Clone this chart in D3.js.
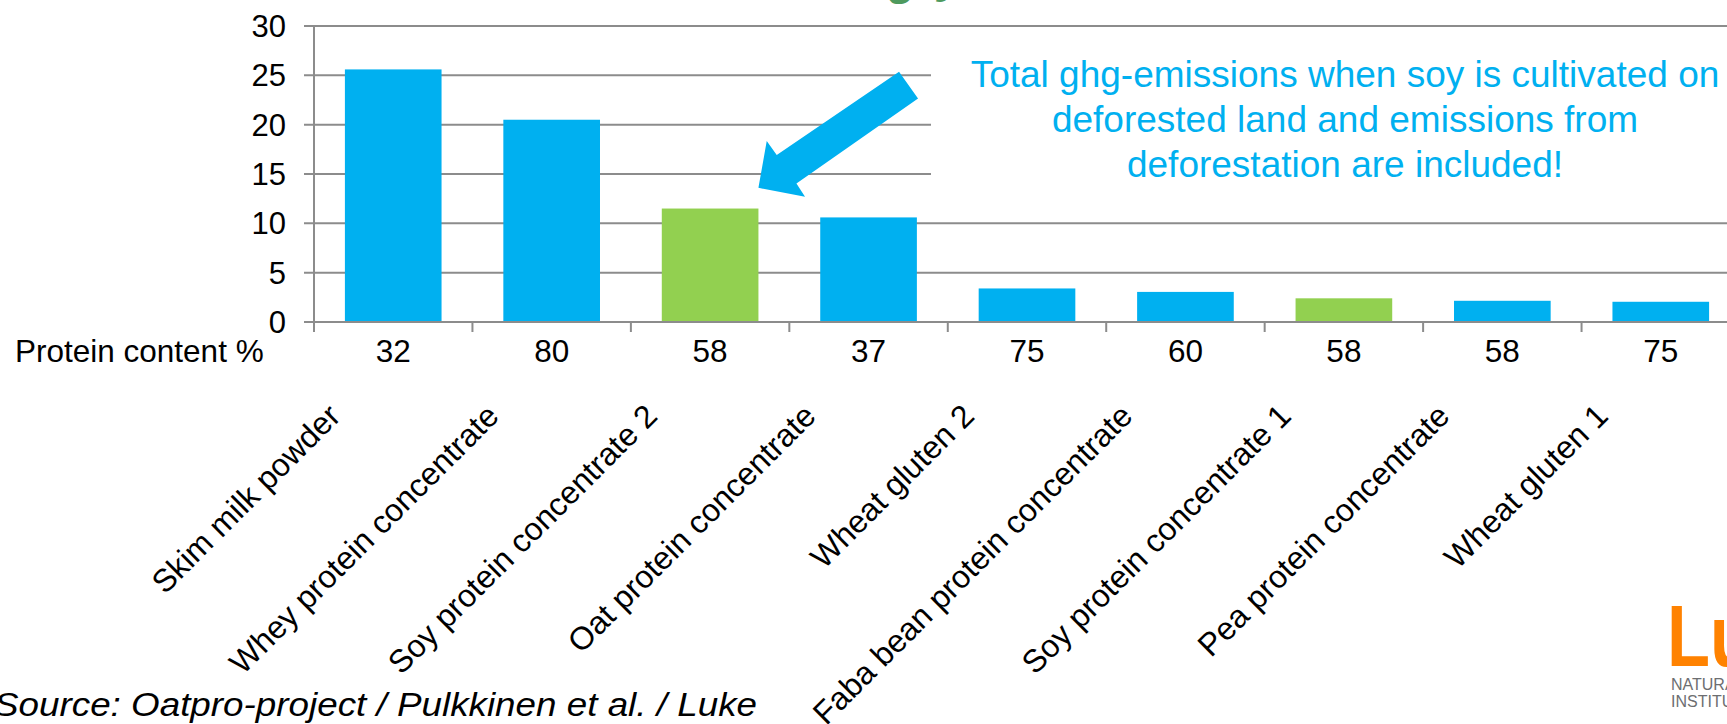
<!DOCTYPE html>
<html><head><meta charset="utf-8">
<script src="https://cdn.jsdelivr.net/npm/d3@7"></script>
<style>html,body{margin:0;padding:0;background:#fff;overflow:hidden}</style>
</head><body><svg id="c" width="1727" height="724"></svg>
<script>
const categories = ["Skim milk powder","Whey protein concentrate","Soy protein concentrate 2","Oat protein concentrate","Wheat gluten 2","Faba bean protein concentrate","Soy protein concentrate 1","Pea protein concentrate","Wheat gluten 1"];
const emissions = [25.6, 20.5, 11.5, 10.6, 3.4, 3.05, 2.4, 2.15, 2.05];
const proteinContent = [32, 80, 58, 37, 75, 60, 58, 58, 75];
const yTicks = [0, 5, 10, 15, 20, 25, 30];
const highlighted = ["Soy protein concentrate 2", "Soy protein concentrate 1"];
const rowLabel = "Protein content %";
const annotationLines = ["Total ghg-emissions when soy is cultivated on", "deforested land and emissions from", "deforestation are included!"];
const arrowTarget = {category: "Soy protein concentrate 2", value: 13.6};
const sourceText = "Source: Oatpro-project / Pulkkinen et al. / Luke";
const logoLines = ["NATURAL RESOURCES", "INSTITUTE FINLAND"];

const svg = d3.select("#c");
const FONT = "'Liberation Sans', Arial, Helvetica, sans-serif";
const BLUE = "#00B0F0", GREEN = "#92D050", GRID = "#8c8c8c";
const x0 = 314, x1 = 1740, yTop = 26, yBot = 322;

const x = d3.scaleBand().domain(categories).range([x0, x1]).paddingInner(0.39).paddingOuter(0.195);
const y = d3.scaleLinear().domain([0, 30]).range([yBot, yTop]);
const bw = x.bandwidth();
const step = x.step();
const cx = c => x(c) + bw / 2;

// title fragment (cut off at top)
const titleG = svg.append("g").attr("font-family", FONT).attr("font-size", 46)
  .attr("font-weight", "bold").attr("font-style", "italic").attr("fill", "#4e9a5e");
titleG.append("text").attr("x", 889).attr("y", -6).text("g");
titleG.append("text").attr("x", 938).attr("y", -8).text("y");

// gridlines
svg.append("g").selectAll("line").data(yTicks).join("line")
  .attr("x1", x0 - 10).attr("x2", x1).attr("y1", d => y(d)).attr("y2", d => y(d))
  .attr("stroke", GRID).attr("stroke-width", 2);

// y axis line
svg.append("line").attr("x1", x0).attr("x2", x0).attr("y1", y(30)).attr("y2", yBot + 10)
  .attr("stroke", GRID).attr("stroke-width", 2);

// y tick labels
svg.append("g").selectAll("text").data(yTicks).join("text")
  .attr("x", 286).attr("y", d => y(d)).attr("dy", "0.36em")
  .attr("text-anchor", "end").attr("font-family", FONT).attr("font-size", 31).attr("fill", "#000")
  .text(d => d);

// category boundary ticks
svg.append("g").selectAll("line").data(d3.range(categories.length + 1)).join("line")
  .attr("x1", i => x0 + i * step).attr("x2", i => x0 + i * step)
  .attr("y1", yBot).attr("y2", yBot + 10)
  .attr("stroke", GRID).attr("stroke-width", 2);

// bars
svg.append("g").selectAll("rect").data(categories).join("rect")
  .attr("x", c => x(c)).attr("width", bw)
  .attr("y", (c, i) => y(emissions[i])).attr("height", (c, i) => yBot - y(emissions[i]))
  .attr("fill", c => highlighted.includes(c) ? GREEN : BLUE);

// baseline on top
svg.append("line").attr("x1", x0 - 10).attr("x2", x1).attr("y1", yBot).attr("y2", yBot)
  .attr("stroke", GRID).attr("stroke-width", 2);

// protein content row
svg.append("text").attr("x", 15).attr("y", 362).attr("font-family", FONT).attr("font-size", 31.5)
  .attr("fill", "#000").text(rowLabel);
svg.append("g").selectAll("text").data(categories).join("text")
  .attr("x", c => cx(c)).attr("y", 362).attr("text-anchor", "middle")
  .attr("font-family", FONT).attr("font-size", 31.5).attr("fill", "#000")
  .text((c, i) => proteinContent[i]);

// rotated category labels
svg.append("g").selectAll("text").data(categories).join("text")
  .attr("transform", c => `translate(${cx(c) - 51},${418}) rotate(-45)`)
  .attr("text-anchor", "end").attr("font-family", FONT).attr("font-size", 32).attr("fill", "#000")
  .text(c => c);

// annotation box (white background hides gridlines)
svg.append("rect").attr("x", 931).attr("y", 45).attr("width", 1727 - 931).attr("height", 155).attr("fill", "#fff");
svg.append("g").selectAll("text").data(annotationLines).join("text")
  .attr("x", 1345).attr("y", (d, i) => 87 + i * 45).attr("text-anchor", "middle")
  .attr("font-family", FONT).attr("font-size", 37).attr("fill", BLUE).text(d => d);

// arrow pointing at the soy bar
const tipX = x(arrowTarget.category) + bw, tipY = y(arrowTarget.value);
const arrowShape = [[0,0],[8.3,-46.7],[18.3,-32.7],[140.6,-116],[159.6,-89.4],[38,-4.4],[46.6,9]];
svg.append("path")
  .attr("d", d3.line()(arrowShape.map(p => [tipX + p[0], tipY + p[1]])) + "Z")
  .attr("fill", BLUE);

// source
svg.append("text").attr("x", -6).attr("y", 716).attr("font-family", FONT).attr("font-size", 34)
  .attr("font-style", "italic").attr("fill", "#000")
  .attr("textLength", 763).attr("lengthAdjust", "spacingAndGlyphs").text(sourceText);

// logo
svg.append("text").attr("transform", "translate(1667,666) scale(0.8,1)").attr("font-family", FONT).attr("font-size", 88)
  .attr("font-weight", "bold").attr("fill", "#ff8200").text("Luke");
svg.append("g").selectAll("text").data(logoLines).join("text")
  .attr("x", 1671).attr("y", (d, i) => 690 + i * 17).attr("font-family", FONT).attr("font-size", 16)
  .attr("fill", "#6d6e71").text(d => d);
</script></body></html>
